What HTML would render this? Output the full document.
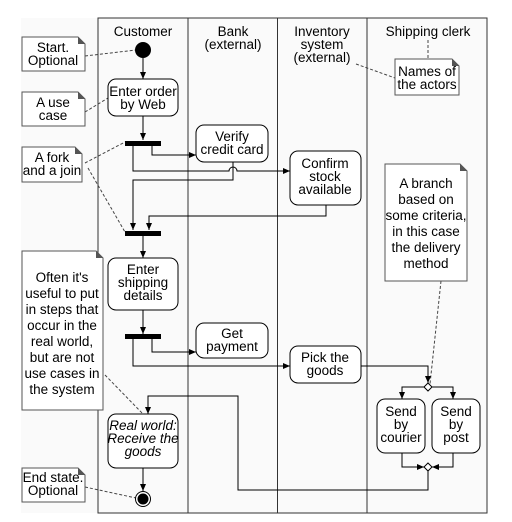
<!DOCTYPE html>
<html><head><style>
html,body{margin:0;padding:0;background:#fff;}
svg{display:block;font-family:"Liberation Sans",Arial,sans-serif;font-size:13.5px;}
</style></head><body>
<svg width="512" height="522" viewBox="0 0 512 522" xmlns="http://www.w3.org/2000/svg">
<defs>
<marker id="a" markerWidth="8" markerHeight="8" refX="7" refY="4" orient="auto" markerUnits="userSpaceOnUse">
<path d="M0,1 L7,4 L0,7 z" fill="#000"/></marker>
</defs>
<rect x="21" y="18" width="466" height="495" fill="#fafafa"/>
<g stroke="#333" stroke-width="1" fill="none">
<path d="M98,18 H487 V513 H98 Z"/>
<line x1="188" y1="18" x2="188" y2="513"/>
<line x1="277.5" y1="18" x2="277.5" y2="513"/>
<line x1="367" y1="18" x2="367" y2="513"/>
</g>
<g text-anchor="middle" fill="#000">
<text x="143" y="36">Customer</text>
<text x="233" y="36">Bank</text><text x="233" y="49">(external)</text>
<text x="322" y="36">Inventory</text><text x="322" y="49">system</text><text x="322" y="62">(external)</text>
<text x="428" y="36">Shipping clerk</text>
</g>
<!-- dashed note links -->
<g stroke="#444" stroke-dasharray="3,2" fill="none">
<line x1="85" y1="56" x2="136" y2="50"/>
<line x1="85" y1="112" x2="108" y2="98"/>
<line x1="85" y1="163" x2="125" y2="142"/>
<line x1="88" y1="168" x2="125" y2="232"/>
<line x1="428" y1="40" x2="428" y2="59"/>
<line x1="356" y1="64" x2="395" y2="78"/>
<line x1="441" y1="281" x2="430" y2="384"/>
<line x1="105" y1="375" x2="143" y2="414"/>
<line x1="85" y1="487" x2="136" y2="498"/>
</g>
<!-- flow lines -->
<g stroke="#000" stroke-width="1" fill="none">
<line x1="143" y1="58" x2="143" y2="79" marker-end="url(#a)"/>
<line x1="143" y1="116" x2="143" y2="140" marker-end="url(#a)"/>
<path d="M152,146 V155 H196" marker-end="url(#a)"/>
<path d="M133,146 V171 H229 a4,4 0 0 1 8,0 H290" marker-end="url(#a)"/>
<path d="M233,162 V180 H133 V230" marker-end="url(#a)"/>
<path d="M326,205 V216 H149 V230" marker-end="url(#a)"/>
<line x1="143" y1="236" x2="143" y2="258" marker-end="url(#a)"/>
<line x1="143" y1="310" x2="143" y2="334" marker-end="url(#a)"/>
<path d="M152,339 V352 H196" marker-end="url(#a)"/>
<path d="M133,339 V366 H290" marker-end="url(#a)"/>
<path d="M361,366 H428 V383" marker-end="url(#a)"/>
<path d="M424,387 H402 V399" marker-end="url(#a)"/>
<path d="M432,387 H453 V399" marker-end="url(#a)"/>
<path d="M402,453 V467 H424" marker-end="url(#a)"/>
<path d="M453,453 V467 H432" marker-end="url(#a)"/>
<path d="M428,471 V490 H238 V396 H148 V414" marker-end="url(#a)"/>
<line x1="143" y1="468" x2="143" y2="491" marker-end="url(#a)"/>
</g>
<!-- diamonds -->
<path d="M428,383 L432,387 L428,391 L424,387 Z" fill="#fff" stroke="#000"/>
<path d="M428,463 L432,467 L428,471 L424,467 Z" fill="#fff" stroke="#000"/>
<!-- start / end -->
<circle cx="143" cy="50" r="8" fill="#000"/>
<circle cx="143" cy="499" r="7.5" fill="#fff" stroke="#000"/>
<circle cx="143" cy="499" r="5.5" fill="#000"/>
<!-- bars -->
<rect x="125" y="141" width="36" height="5" fill="#000"/>
<rect x="125" y="231" width="36" height="5" fill="#000"/>
<rect x="125" y="334" width="36" height="5" fill="#000"/>
<!-- activity boxes -->
<g fill="#fff" stroke="#000">
<rect x="108" y="79" width="70" height="37" rx="8"/>
<rect x="196" y="125" width="72" height="37" rx="8"/>
<rect x="290" y="151" width="71" height="54" rx="8"/>
<rect x="108" y="258" width="70" height="52" rx="8"/>
<rect x="196" y="323" width="72" height="35" rx="8"/>
<rect x="290" y="346" width="71" height="37" rx="8"/>
<rect x="377" y="399" width="48" height="54" rx="8"/>
<rect x="432" y="399" width="48" height="54" rx="8"/>
<rect x="108" y="414" width="70" height="54" rx="8"/>
</g>
<g text-anchor="middle" fill="#000">
<text x="143" y="96">Enter order</text><text x="143" y="109">by Web</text>
<text x="232" y="141">Verify</text><text x="232" y="154">credit card</text>
<text x="325" y="168">Confirm</text><text x="325" y="181">stock</text><text x="325" y="194">available</text>
<text x="143" y="274">Enter</text><text x="143" y="287">shipping</text><text x="143" y="300">details</text>
<text x="232" y="338">Get</text><text x="232" y="351">payment</text>
<text x="325" y="362">Pick the</text><text x="325" y="375">goods</text>
<text x="401" y="416">Send</text><text x="401" y="429">by</text><text x="401" y="442">courier</text>
<text x="456" y="416">Send</text><text x="456" y="429">by</text><text x="456" y="442">post</text>
<g font-style="italic"><text x="143" y="430">Real world:</text><text x="143" y="443">Receive the</text><text x="143" y="456">goods</text></g>
</g>
<!-- notes -->
<g fill="#fff" stroke="#555">
<path d="M22,37 H78 L85,44 V71 H22 Z"/>
<path d="M22,92 H78 L85,99 V126 H22 Z"/>
<path d="M22,147 H75 L82,154 V182 H22 Z"/>
<path d="M22,251 H96 L103,258 V410 H22 Z"/>
<path d="M22,468 H78 L85,475 V502 H22 Z"/>
<path d="M395,59 H452 L459,66 V95 H395 Z"/>
<path d="M385,164 H460 L467,171 V281 H385 Z"/>
</g>
<g fill="#555">
<path d="M78,37 L85,44 H78 Z"/><path d="M78,92 L85,99 H78 Z"/><path d="M75,147 L82,154 H75 Z"/>
<path d="M96,251 L103,258 H96 Z"/><path d="M78,468 L85,475 H78 Z"/><path d="M452,59 L459,66 H452 Z"/><path d="M460,164 L467,171 H460 Z"/>
</g>
<g text-anchor="middle" fill="#000">
<text x="53" y="52">Start.</text><text x="53" y="65">Optional</text>
<text x="53" y="107">A use</text><text x="53" y="120">case</text>
<text x="52" y="162">A fork</text><text x="52" y="175">and a join</text>
<text x="62" y="282">Often it's</text><text x="62" y="298">useful to put</text><text x="62" y="314">in steps that</text><text x="62" y="330">occur in the</text><text x="62" y="346">real world,</text><text x="62" y="362">but are not</text><text x="62" y="378">use cases in</text><text x="62" y="394">the system</text>
<text x="53" y="482">End state.</text><text x="53" y="495">Optional</text>
<text x="427" y="76">Names of</text><text x="427" y="89">the actors</text>
<text x="426" y="188">A branch</text><text x="426" y="204">based on</text><text x="426" y="220">some criteria,</text><text x="426" y="236">in this case</text><text x="426" y="252">the delivery</text><text x="426" y="268">method</text>
</g>
</svg>
</body></html>
